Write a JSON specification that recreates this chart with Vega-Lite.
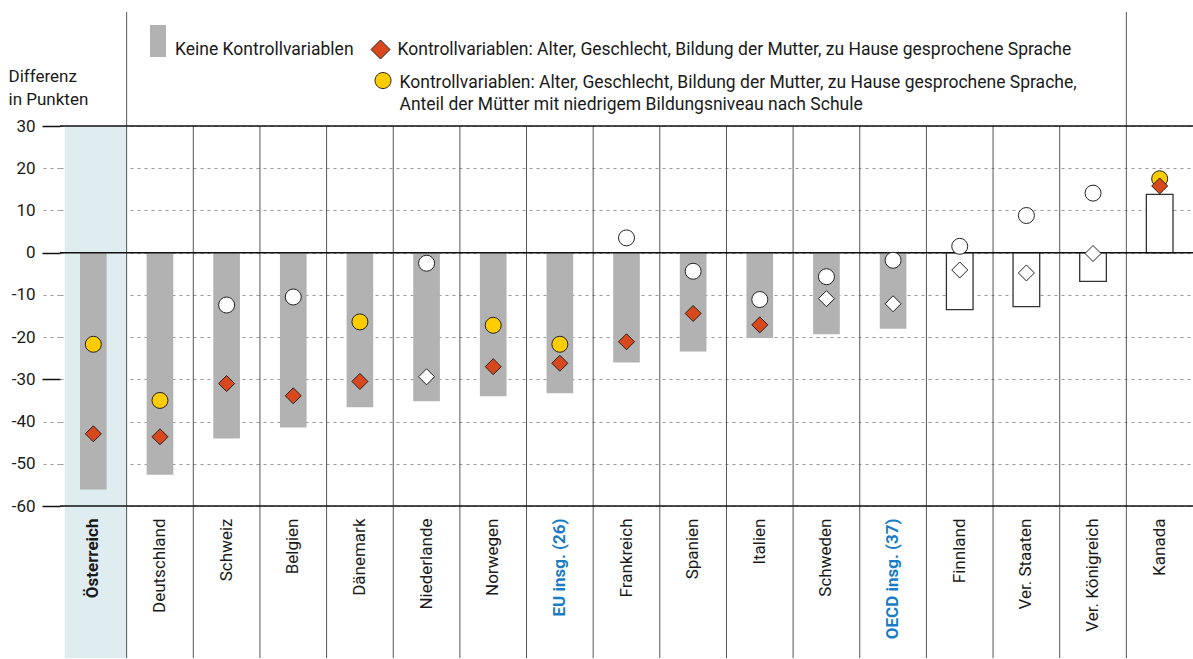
{
  "$schema": "https://vega.github.io/schema/vega-lite/v6.json",
  "width": 1133,
  "height": 380,
  "autosize": {"type": "none"},
  "padding": {"left": 60, "top": 126, "right": 0, "bottom": 153},
  "background": "white",
  "config": {
    "font": "Roboto",
    "view": {"stroke": null},
    "style": {"guide-label": {"lineHeight": 22}}
  },
  "data": {
    "values": [
      {"c": "Österreich", "bar": -56.1, "d": -42.9, "o": -21.7, "sb": 1, "sd": 1, "so": 1},
      {"c": "Deutschland", "bar": -52.6, "d": -43.6, "o": -35.0, "sb": 1, "sd": 1, "so": 1},
      {"c": "Schweiz", "bar": -44.0, "d": -31.0, "o": -12.4, "sb": 1, "sd": 1, "so": 0},
      {"c": "Belgien", "bar": -41.4, "d": -33.9, "o": -10.5, "sb": 1, "sd": 1, "so": 0},
      {"c": "Dänemark", "bar": -36.6, "d": -30.5, "o": -16.4, "sb": 1, "sd": 1, "so": 1},
      {"c": "Niederlande", "bar": -35.2, "d": -29.4, "o": -2.5, "sb": 1, "sd": 0, "so": 0},
      {"c": "Norwegen", "bar": -34.0, "d": -27.0, "o": -17.2, "sb": 1, "sd": 1, "so": 1},
      {"c": "EU insg. (26)", "bar": -33.3, "d": -26.2, "o": -21.7, "sb": 1, "sd": 1, "so": 1},
      {"c": "Frankreich", "bar": -26.0, "d": -21.1, "o": 3.5, "sb": 1, "sd": 1, "so": 0},
      {"c": "Spanien", "bar": -23.4, "d": -14.4, "o": -4.4, "sb": 1, "sd": 1, "so": 0},
      {"c": "Italien", "bar": -20.2, "d": -17.1, "o": -11.1, "sb": 1, "sd": 1, "so": 0},
      {"c": "Schweden", "bar": -19.3, "d": -10.9, "o": -5.7, "sb": 1, "sd": 0, "so": 0},
      {"c": "OECD insg. (37)", "bar": -18.0, "d": -12.1, "o": -1.8, "sb": 1, "sd": 0, "so": 0},
      {"c": "Finnland", "bar": -13.5, "d": -4.1, "o": 1.5, "sb": 0, "sd": 0, "so": 0},
      {"c": "Ver. Staaten", "bar": -12.8, "d": -4.8, "o": 8.8, "sb": 0, "sd": 0, "so": 0},
      {"c": "Ver. Königreich", "bar": -6.8, "d": -0.2, "o": 14.1, "sb": 0, "sd": 0, "so": 0},
      {"c": "Kanada", "bar": 13.8, "d": 15.8, "o": 17.5, "sb": 0, "sd": 1, "so": 1}
    ]
  },
  "layer": [
    {
      "transform": [{"filter": "datum.c == 'Österreich'"}],
      "mark": {"type": "bar", "fill": "#dfedf1", "width": {"band": 0.93}, "xOffset": 2.3},
      "encoding": {
        "x": {"field": "c", "type": "nominal", "sort": null, "title": null},
        "y": {"datum": 30, "type": "quantitative", "scale": {"domain": [-60, 30], "nice": false}},
        "y2": {"datum": -96}
      }
    },
    {
      "mark": {"type": "bar", "width": {"band": 0.4}, "strokeWidth": 1.3},
      "encoding": {
        "x": {
          "field": "c", "type": "nominal", "sort": null, "title": null,
          "scale": {"paddingInner": 0, "paddingOuter": 0},
          "axis": {
            "title": null, "orient": "bottom", "domain": false, "ticks": false, "grid": false,
            "labelAngle": -90, "labelAlign": "right", "labelBaseline": "middle",
            "labelPadding": 12, "labelFontSize": 17, "labelLimit": 300,
            "labelColor": {"condition": {"test": "indexof(datum.value, 'insg') >= 0", "value": "#1a7cc4"}, "value": "#1a1a1a"},
            "labelFontWeight": {"condition": {"test": "datum.value == 'Österreich' || indexof(datum.value, 'insg') >= 0", "value": "bold"}, "value": "normal"},
            "zindex": 2
          }
        },
        "y": {
          "field": "bar", "type": "quantitative",
          "scale": {"domain": [-60, 30], "nice": false},
          "axis": {
            "values": [-60, -50, -40, -30, -20, -10, 0, 10, 20, 30],
            "labelExpr": "toString(datum.value)",
            "title": ["Differenz", "in Punkten"],
            "titleAngle": 0, "titleAlign": "left", "titleBaseline": "alphabetic",
            "titleX": -52, "titleY": -45, "titleFontSize": 17, "titleFontWeight": "normal",
            "titleLineHeight": 23, "titleColor": "#1a1a1a",
            "labelFontSize": 17, "labelPadding": 7, "labelColor": "#1a1a1a",
            "domain": false, "tickSize": 18,
            "tickColor": {"condition": {"test": "datum.value % 30 == 0", "value": "#111111"}, "value": "#999999"},
            "tickDash": {"condition": {"test": "datum.value % 30 == 0", "value": []}, "value": [3, 4]},
            "tickWidth": {"condition": {"test": "datum.value % 30 == 0", "value": 1.5}, "value": 1},
            "grid": true, "gridDash": [3, 4], "gridColor": "#999999", "gridWidth": 1,
            "zindex": 0
          }
        },
        "fill": {
          "condition": {"test": "datum.sb == 0", "value": "white"},
          "datum": "Keine Kontrollvariablen", "type": "nominal",
          "scale": {"range": ["#b2b2b2"]},
          "legend": {
            "orient": "none", "legendX": 82, "legendY": -101, "title": null, "padding": 0,
            "symbolType": "M-0.5,-1H0.5V1H-0.5Z", "symbolSize": 1024, "symbolStrokeWidth": 0,
            "labelFontSize": 17.5, "labelBaseline": "top", "labelOffset": 1, "labelLimit": 1000, "labelColor": "#1a1a1a"
          }
        },
        "stroke": {"condition": {"test": "datum.sb == 0", "value": "#333333"}, "value": "transparent"}
      }
    },
    {
      "transform": [{"filter": "datum.c != 'Österreich'"}],
      "mark": {"type": "rule", "color": "#555555", "strokeWidth": 1},
      "encoding": {
        "x": {"field": "c", "type": "nominal", "sort": null, "bandPosition": 0, "title": null},
        "y": {"datum": 30, "type": "quantitative"},
        "y2": {"datum": -96}
      }
    },
    {
      "transform": [{"filter": "datum.c == 'Deutschland' || datum.c == 'Kanada'"}],
      "mark": {"type": "rule", "color": "#555555", "strokeWidth": 1},
      "encoding": {
        "x": {"field": "c", "type": "nominal", "sort": null, "bandPosition": 0, "title": null},
        "y": {"datum": 57, "type": "quantitative"},
        "y2": {"datum": 30}
      }
    },
    {
      "data": {"values": [{"v": 30}, {"v": 0}, {"v": -60}]},
      "mark": {"type": "rule", "color": "#111111", "strokeWidth": 1.5},
      "encoding": {
        "y": {"field": "v", "type": "quantitative"}
      }
    },
    {
      "mark": {"type": "point", "shape": "circle", "filled": true, "size": 256, "stroke": "#222222", "strokeWidth": 1, "opacity": 1},
      "encoding": {
        "x": {"field": "c", "type": "nominal", "sort": null, "title": null},
        "y": {"field": "o", "type": "quantitative"},
        "fill": {
          "condition": {"test": "datum.so == 0", "value": "white"},
          "datum": "Kontrollvariablen: Alter, Geschlecht, Bildung der Mutter, zu Hause gesprochene Sprache,|Anteil der Mütter mit niedrigem Bildungsniveau nach Schule", "type": "nominal",
          "scale": {"range": ["#ffcc00"]},
          "legend": {
            "orient": "none", "legendX": 306.5, "legendY": -69, "title": null, "padding": 0,
            "symbolType": "M-0.5,0.44A0.5,0.5,0,1,1,0.5,0.44A0.5,0.5,0,1,1,-0.5,0.44Z", "symbolSize": 1024,
            "symbolStrokeColor": "#222222", "symbolStrokeWidth": 1,
            "labelExpr": "split(datum.label, '|')",
            "labelFontSize": 17.5, "labelBaseline": "top", "labelOffset": 0, "labelLimit": 1000, "labelColor": "#1a1a1a"
          }
        }
      }
    },
    {
      "mark": {"type": "point", "shape": "diamond", "filled": true, "size": 256, "stroke": "#222222", "strokeWidth": 1, "opacity": 1},
      "encoding": {
        "x": {"field": "c", "type": "nominal", "sort": null, "title": null},
        "y": {"field": "d", "type": "quantitative"},
        "fill": {
          "condition": {"test": "datum.sd == 0", "value": "white"},
          "datum": "Kontrollvariablen: Alter, Geschlecht, Bildung der Mutter, zu Hause gesprochene Sprache", "type": "nominal",
          "scale": {"range": ["#d9481c"]},
          "legend": {
            "orient": "none", "legendX": 310.5, "legendY": -86.5, "title": null, "padding": 0,
            "symbolType": "diamond", "symbolSize": 361, "symbolStrokeColor": "#222222", "symbolStrokeWidth": 1,
            "labelFontSize": 17.5, "labelBaseline": "middle", "labelOffset": 7, "labelLimit": 1000, "labelColor": "#1a1a1a"
          }
        }
      }
    }
  ],
  "resolve": {"scale": {"fill": "independent"}, "legend": {"fill": "independent"}}
}
